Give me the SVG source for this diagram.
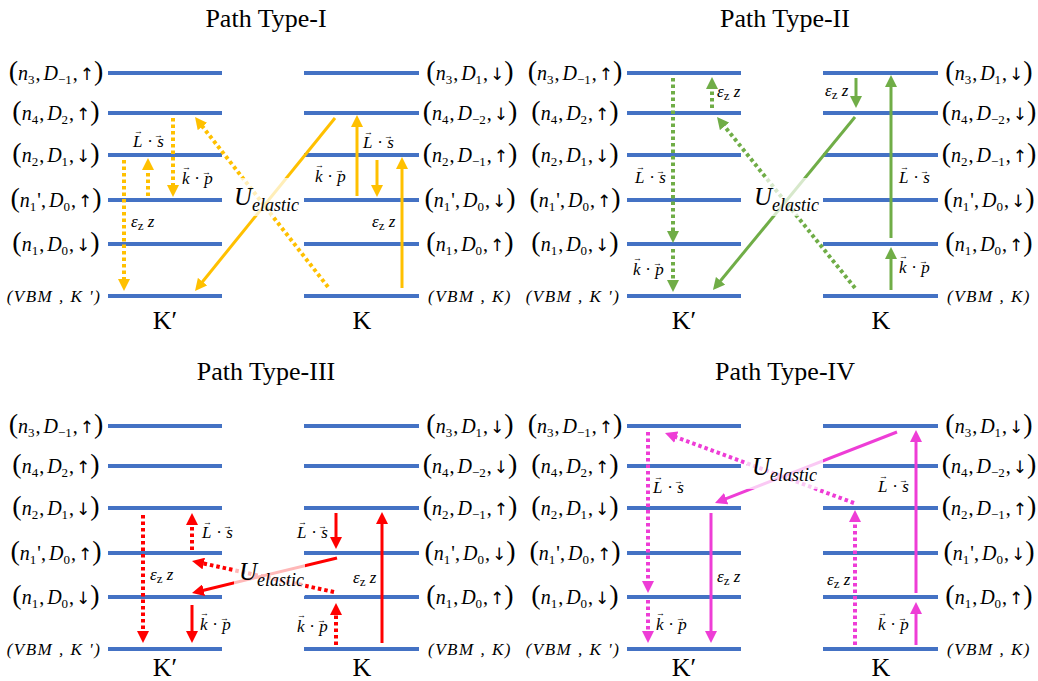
<svg xmlns="http://www.w3.org/2000/svg" width="1038" height="681" viewBox="0 0 1038 681">
<style>
.lv{stroke:#4472C4;stroke-width:4}
.t{font-family:"Liberation Serif","DejaVu Serif",serif;fill:#000}
.lab{font-size:20px;text-anchor:middle}
.par{font-size:28px;font-style:normal}
.ar{font-family:"DejaVu Sans",sans-serif;font-size:17px}
.i{font-style:italic}
.sb{font-size:13px}
.vbm{font-size:17px;font-style:italic;letter-spacing:1.5px;text-anchor:middle}
.title{font-size:26px;text-anchor:middle}
.kk{font-size:26px;text-anchor:middle}
.m{font-size:17px}
.v{font-size:9px;font-style:normal}
.ue{font-size:25px;font-style:italic}
.ues{font-size:18px;font-style:italic}
.sol{stroke-width:3;fill:none}
.dot{stroke-width:4;stroke-dasharray:3.5 3;fill:none}
.or{stroke:#FFC000}.gr{stroke:#70AD47}.rd{stroke:#FF0000}.mg{stroke:#EE3DD6}
.fade{fill:#fff;fill-opacity:0.72}
</style>
<defs>
<marker id="aor" viewBox="0 0 12 12" markerWidth="12" markerHeight="12" refX="2" refY="6" orient="auto" markerUnits="userSpaceOnUse"><path d="M0,0 L12,6 L0,12 z" fill="#FFC000"/></marker>
<marker id="agr" viewBox="0 0 12 12" markerWidth="12" markerHeight="12" refX="2" refY="6" orient="auto" markerUnits="userSpaceOnUse"><path d="M0,0 L12,6 L0,12 z" fill="#70AD47"/></marker>
<marker id="ard" viewBox="0 0 12 12" markerWidth="12" markerHeight="12" refX="2" refY="6" orient="auto" markerUnits="userSpaceOnUse"><path d="M0,0 L12,6 L0,12 z" fill="#FF0000"/></marker>
<marker id="amg" viewBox="0 0 12 12" markerWidth="12" markerHeight="12" refX="2" refY="6" orient="auto" markerUnits="userSpaceOnUse"><path d="M0,0 L12,6 L0,12 z" fill="#EE3DD6"/></marker>
<g id="levels">
<line class="lv" x1="108" y1="73" x2="222" y2="73"/><line class="lv" x1="108" y1="113" x2="222" y2="113"/><line class="lv" x1="108" y1="155" x2="222" y2="155"/><line class="lv" x1="108" y1="200" x2="222" y2="200"/><line class="lv" x1="108" y1="244" x2="222" y2="244"/><line class="lv" x1="108" y1="296" x2="222" y2="296"/>
<line class="lv" x1="304" y1="73" x2="419" y2="73"/><line class="lv" x1="304" y1="113" x2="419" y2="113"/><line class="lv" x1="304" y1="155" x2="419" y2="155"/><line class="lv" x1="304" y1="200" x2="419" y2="200"/><line class="lv" x1="304" y1="244" x2="419" y2="244"/><line class="lv" x1="304" y1="296" x2="419" y2="296"/>
</g>
</defs>

<g id="titles">
<text class="t title" x="266" y="27">Path Type-I</text>
<text class="t title" x="785" y="27">Path Type-II</text>
<text class="t title" x="266" y="380">Path Type-III</text>
<text class="t title" x="785" y="380">Path Type-IV</text>
</g>

<g id="panel1">
<use href="#levels"/>
<g id="labels1">
<text class="t lab" x="56" y="80"><tspan class="par">(</tspan><tspan class="i">n</tspan><tspan class="sb" dy="4">3</tspan><tspan dy="-4" dx="1">,</tspan><tspan class="i" dx="3">D</tspan><tspan class="sb" dy="4">−1</tspan><tspan dy="-4" dx="1">,</tspan><tspan class="ar" dx="2">↑</tspan><tspan class="par">)</tspan></text>
<text class="t lab" x="56" y="120"><tspan class="par">(</tspan><tspan class="i">n</tspan><tspan class="sb" dy="4">4</tspan><tspan dy="-4" dx="1">,</tspan><tspan class="i" dx="3">D</tspan><tspan class="sb" dy="4">2</tspan><tspan dy="-4" dx="1">,</tspan><tspan class="ar" dx="2">↑</tspan><tspan class="par">)</tspan></text>
<text class="t lab" x="56" y="162"><tspan class="par">(</tspan><tspan class="i">n</tspan><tspan class="sb" dy="4">2</tspan><tspan dy="-4" dx="1">,</tspan><tspan class="i" dx="3">D</tspan><tspan class="sb" dy="4">1</tspan><tspan dy="-4" dx="1">,</tspan><tspan class="ar" dx="2">↓</tspan><tspan class="par">)</tspan></text>
<text class="t lab" x="56" y="207"><tspan class="par">(</tspan><tspan class="i">n</tspan><tspan class="sb" dy="4">1</tspan><tspan dy="-4" dx="1">',</tspan><tspan class="i" dx="3">D</tspan><tspan class="sb" dy="4">0</tspan><tspan dy="-4" dx="1">,</tspan><tspan class="ar" dx="2">↑</tspan><tspan class="par">)</tspan></text>
<text class="t lab" x="56" y="251"><tspan class="par">(</tspan><tspan class="i">n</tspan><tspan class="sb" dy="4">1</tspan><tspan dy="-4" dx="1">,</tspan><tspan class="i" dx="3">D</tspan><tspan class="sb" dy="4">0</tspan><tspan dy="-4" dx="1">,</tspan><tspan class="ar" dx="2">↓</tspan><tspan class="par">)</tspan></text>
<text class="t vbm" x="54" y="302">(VBM , K ')</text>
<text class="t lab" x="470" y="80"><tspan class="par">(</tspan><tspan class="i">n</tspan><tspan class="sb" dy="4">3</tspan><tspan dy="-4" dx="1">,</tspan><tspan class="i" dx="3">D</tspan><tspan class="sb" dy="4">1</tspan><tspan dy="-4" dx="1">,</tspan><tspan class="ar" dx="2">↓</tspan><tspan class="par">)</tspan></text>
<text class="t lab" x="470" y="120"><tspan class="par">(</tspan><tspan class="i">n</tspan><tspan class="sb" dy="4">4</tspan><tspan dy="-4" dx="1">,</tspan><tspan class="i" dx="3">D</tspan><tspan class="sb" dy="4">−2</tspan><tspan dy="-4" dx="1">,</tspan><tspan class="ar" dx="2">↓</tspan><tspan class="par">)</tspan></text>
<text class="t lab" x="470" y="162"><tspan class="par">(</tspan><tspan class="i">n</tspan><tspan class="sb" dy="4">2</tspan><tspan dy="-4" dx="1">,</tspan><tspan class="i" dx="3">D</tspan><tspan class="sb" dy="4">−1</tspan><tspan dy="-4" dx="1">,</tspan><tspan class="ar" dx="2">↑</tspan><tspan class="par">)</tspan></text>
<text class="t lab" x="470" y="207"><tspan class="par">(</tspan><tspan class="i">n</tspan><tspan class="sb" dy="4">1</tspan><tspan dy="-4" dx="1">',</tspan><tspan class="i" dx="3">D</tspan><tspan class="sb" dy="4">0</tspan><tspan dy="-4" dx="1">,</tspan><tspan class="ar" dx="2">↓</tspan><tspan class="par">)</tspan></text>
<text class="t lab" x="470" y="251"><tspan class="par">(</tspan><tspan class="i">n</tspan><tspan class="sb" dy="4">1</tspan><tspan dy="-4" dx="1">,</tspan><tspan class="i" dx="3">D</tspan><tspan class="sb" dy="4">0</tspan><tspan dy="-4" dx="1">,</tspan><tspan class="ar" dx="2">↑</tspan><tspan class="par">)</tspan></text>
<text class="t vbm" x="470" y="302">(VBM , K)</text>
</g>
<g id="connectors1">
<path class="dot or" d="M124,160 V281" marker-end="url(#aor)"/>
<path class="dot or" d="M148,196 V168" marker-end="url(#aor)"/>
<path class="dot or" d="M173,118 V187" marker-end="url(#aor)"/>
<path class="dot or" d="M328,287 L201.2,124.9" marker-end="url(#aor)"/>
<path class="sol or" d="M335,118 L201.3,283.2" marker-end="url(#aor)"/>
<path class="sol or" d="M357,196 V125" marker-end="url(#aor)"/>
<path class="sol or" d="M377,160 V187" marker-end="url(#aor)"/>
<path class="sol or" d="M402,288 V167" marker-end="url(#aor)"/>
</g>
<rect class="fade" x="230" y="178" width="68" height="38"/>
<text class="t" x="234" y="205"><tspan class="ue">U</tspan><tspan class="ues" dy="6">elastic</tspan></text>
<text class="t m" x="133" y="147"><tspan class="i">L</tspan><tspan class="v" x="134" y="134">→</tspan><tspan x="143" y="147"> · </tspan><tspan class="i">s</tspan><tspan class="v" x="154" y="138">→</tspan></text>
<text class="t m" x="182" y="184"><tspan class="i">k</tspan><tspan class="v" x="182" y="170">→</tspan><tspan x="190" y="184"> · </tspan><tspan class="i">p</tspan><tspan class="v" x="202" y="175">→</tspan></text>
<text class="t m" x="131" y="227"><tspan class="i">ε</tspan><tspan class="sb" dy="3">z</tspan><tspan class="i" dy="-3"> z</tspan></text>
<text class="t m" x="363" y="148"><tspan class="i">L</tspan><tspan class="v" x="364" y="135">→</tspan><tspan x="373" y="148"> · </tspan><tspan class="i">s</tspan><tspan class="v" x="384" y="139">→</tspan></text>
<text class="t m" x="315" y="182"><tspan class="i">k</tspan><tspan class="v" x="315" y="168">→</tspan><tspan x="323" y="182"> · </tspan><tspan class="i">p</tspan><tspan class="v" x="335" y="173">→</tspan></text>
<text class="t m" x="372" y="227"><tspan class="i">ε</tspan><tspan class="sb" dy="3">z</tspan><tspan class="i" dy="-3"> z</tspan></text>
<text class="t kk" x="165" y="329">K′</text><text class="t kk" x="362" y="329">K</text>
</g>

<g id="panel2" transform="translate(519,0)">
<use href="#levels"/>
<g id="labels2">
<text class="t lab" x="56" y="80"><tspan class="par">(</tspan><tspan class="i">n</tspan><tspan class="sb" dy="4">3</tspan><tspan dy="-4" dx="1">,</tspan><tspan class="i" dx="3">D</tspan><tspan class="sb" dy="4">−1</tspan><tspan dy="-4" dx="1">,</tspan><tspan class="ar" dx="2">↑</tspan><tspan class="par">)</tspan></text>
<text class="t lab" x="56" y="120"><tspan class="par">(</tspan><tspan class="i">n</tspan><tspan class="sb" dy="4">4</tspan><tspan dy="-4" dx="1">,</tspan><tspan class="i" dx="3">D</tspan><tspan class="sb" dy="4">2</tspan><tspan dy="-4" dx="1">,</tspan><tspan class="ar" dx="2">↑</tspan><tspan class="par">)</tspan></text>
<text class="t lab" x="56" y="162"><tspan class="par">(</tspan><tspan class="i">n</tspan><tspan class="sb" dy="4">2</tspan><tspan dy="-4" dx="1">,</tspan><tspan class="i" dx="3">D</tspan><tspan class="sb" dy="4">1</tspan><tspan dy="-4" dx="1">,</tspan><tspan class="ar" dx="2">↓</tspan><tspan class="par">)</tspan></text>
<text class="t lab" x="56" y="207"><tspan class="par">(</tspan><tspan class="i">n</tspan><tspan class="sb" dy="4">1</tspan><tspan dy="-4" dx="1">',</tspan><tspan class="i" dx="3">D</tspan><tspan class="sb" dy="4">0</tspan><tspan dy="-4" dx="1">,</tspan><tspan class="ar" dx="2">↑</tspan><tspan class="par">)</tspan></text>
<text class="t lab" x="56" y="251"><tspan class="par">(</tspan><tspan class="i">n</tspan><tspan class="sb" dy="4">1</tspan><tspan dy="-4" dx="1">,</tspan><tspan class="i" dx="3">D</tspan><tspan class="sb" dy="4">0</tspan><tspan dy="-4" dx="1">,</tspan><tspan class="ar" dx="2">↓</tspan><tspan class="par">)</tspan></text>
<text class="t vbm" x="54" y="302">(VBM , K ')</text>
<text class="t lab" x="470" y="80"><tspan class="par">(</tspan><tspan class="i">n</tspan><tspan class="sb" dy="4">3</tspan><tspan dy="-4" dx="1">,</tspan><tspan class="i" dx="3">D</tspan><tspan class="sb" dy="4">1</tspan><tspan dy="-4" dx="1">,</tspan><tspan class="ar" dx="2">↓</tspan><tspan class="par">)</tspan></text>
<text class="t lab" x="470" y="120"><tspan class="par">(</tspan><tspan class="i">n</tspan><tspan class="sb" dy="4">4</tspan><tspan dy="-4" dx="1">,</tspan><tspan class="i" dx="3">D</tspan><tspan class="sb" dy="4">−2</tspan><tspan dy="-4" dx="1">,</tspan><tspan class="ar" dx="2">↓</tspan><tspan class="par">)</tspan></text>
<text class="t lab" x="470" y="162"><tspan class="par">(</tspan><tspan class="i">n</tspan><tspan class="sb" dy="4">2</tspan><tspan dy="-4" dx="1">,</tspan><tspan class="i" dx="3">D</tspan><tspan class="sb" dy="4">−1</tspan><tspan dy="-4" dx="1">,</tspan><tspan class="ar" dx="2">↑</tspan><tspan class="par">)</tspan></text>
<text class="t lab" x="470" y="207"><tspan class="par">(</tspan><tspan class="i">n</tspan><tspan class="sb" dy="4">1</tspan><tspan dy="-4" dx="1">',</tspan><tspan class="i" dx="3">D</tspan><tspan class="sb" dy="4">0</tspan><tspan dy="-4" dx="1">,</tspan><tspan class="ar" dx="2">↓</tspan><tspan class="par">)</tspan></text>
<text class="t lab" x="470" y="251"><tspan class="par">(</tspan><tspan class="i">n</tspan><tspan class="sb" dy="4">1</tspan><tspan dy="-4" dx="1">,</tspan><tspan class="i" dx="3">D</tspan><tspan class="sb" dy="4">0</tspan><tspan dy="-4" dx="1">,</tspan><tspan class="ar" dx="2">↑</tspan><tspan class="par">)</tspan></text>
<text class="t vbm" x="470" y="302">(VBM , K)</text>
</g>
<g id="connectors2">
<path class="dot gr" d="M154,78 V233" marker-end="url(#agr)"/>
<path class="dot gr" d="M154,249 V282" marker-end="url(#agr)"/>
<path class="dot gr" d="M193,108 V87" marker-end="url(#agr)"/>
<path class="dot gr" d="M336,288 L204.3,124.8" marker-end="url(#agr)"/>
<path class="sol gr" d="M336,117 L200.3,282.3" marker-end="url(#agr)"/>
<path class="sol gr" d="M337,78 V98" marker-end="url(#agr)"/>
<path class="sol gr" d="M372,238 V85" marker-end="url(#agr)"/>
<path class="sol gr" d="M372,290 V257" marker-end="url(#agr)"/>
</g>
<rect class="fade" x="231" y="178" width="68" height="38"/>
<text class="t" x="235" y="205"><tspan class="ue">U</tspan><tspan class="ues" dy="6">elastic</tspan></text>
<text class="t m" x="116" y="183"><tspan class="i">L</tspan><tspan class="v" x="117" y="170">→</tspan><tspan x="126" y="183"> · </tspan><tspan class="i">s</tspan><tspan class="v" x="137" y="174">→</tspan></text>
<text class="t m" x="114" y="275"><tspan class="i">k</tspan><tspan class="v" x="114" y="261">→</tspan><tspan x="122" y="275"> · </tspan><tspan class="i">p</tspan><tspan class="v" x="134" y="266">→</tspan></text>
<text class="t m" x="198" y="97"><tspan class="i">ε</tspan><tspan class="sb" dy="3">z</tspan><tspan class="i" dy="-3"> z</tspan></text>
<text class="t m" x="306" y="96"><tspan class="i">ε</tspan><tspan class="sb" dy="3">z</tspan><tspan class="i" dy="-3"> z</tspan></text>
<text class="t m" x="380" y="183"><tspan class="i">L</tspan><tspan class="v" x="381" y="170">→</tspan><tspan x="390" y="183"> · </tspan><tspan class="i">s</tspan><tspan class="v" x="401" y="174">→</tspan></text>
<text class="t m" x="380" y="273"><tspan class="i">k</tspan><tspan class="v" x="380" y="259">→</tspan><tspan x="388" y="273"> · </tspan><tspan class="i">p</tspan><tspan class="v" x="400" y="264">→</tspan></text>
<text class="t kk" x="165" y="329">K′</text><text class="t kk" x="362" y="329">K</text>
</g>

<g id="panel3" transform="translate(0,353)">
<use href="#levels"/>
<g id="labels3">
<text class="t lab" x="56" y="80"><tspan class="par">(</tspan><tspan class="i">n</tspan><tspan class="sb" dy="4">3</tspan><tspan dy="-4" dx="1">,</tspan><tspan class="i" dx="3">D</tspan><tspan class="sb" dy="4">−1</tspan><tspan dy="-4" dx="1">,</tspan><tspan class="ar" dx="2">↑</tspan><tspan class="par">)</tspan></text>
<text class="t lab" x="56" y="120"><tspan class="par">(</tspan><tspan class="i">n</tspan><tspan class="sb" dy="4">4</tspan><tspan dy="-4" dx="1">,</tspan><tspan class="i" dx="3">D</tspan><tspan class="sb" dy="4">2</tspan><tspan dy="-4" dx="1">,</tspan><tspan class="ar" dx="2">↑</tspan><tspan class="par">)</tspan></text>
<text class="t lab" x="56" y="162"><tspan class="par">(</tspan><tspan class="i">n</tspan><tspan class="sb" dy="4">2</tspan><tspan dy="-4" dx="1">,</tspan><tspan class="i" dx="3">D</tspan><tspan class="sb" dy="4">1</tspan><tspan dy="-4" dx="1">,</tspan><tspan class="ar" dx="2">↓</tspan><tspan class="par">)</tspan></text>
<text class="t lab" x="56" y="207"><tspan class="par">(</tspan><tspan class="i">n</tspan><tspan class="sb" dy="4">1</tspan><tspan dy="-4" dx="1">',</tspan><tspan class="i" dx="3">D</tspan><tspan class="sb" dy="4">0</tspan><tspan dy="-4" dx="1">,</tspan><tspan class="ar" dx="2">↑</tspan><tspan class="par">)</tspan></text>
<text class="t lab" x="56" y="251"><tspan class="par">(</tspan><tspan class="i">n</tspan><tspan class="sb" dy="4">1</tspan><tspan dy="-4" dx="1">,</tspan><tspan class="i" dx="3">D</tspan><tspan class="sb" dy="4">0</tspan><tspan dy="-4" dx="1">,</tspan><tspan class="ar" dx="2">↓</tspan><tspan class="par">)</tspan></text>
<text class="t vbm" x="54" y="302">(VBM , K ')</text>
<text class="t lab" x="470" y="80"><tspan class="par">(</tspan><tspan class="i">n</tspan><tspan class="sb" dy="4">3</tspan><tspan dy="-4" dx="1">,</tspan><tspan class="i" dx="3">D</tspan><tspan class="sb" dy="4">1</tspan><tspan dy="-4" dx="1">,</tspan><tspan class="ar" dx="2">↓</tspan><tspan class="par">)</tspan></text>
<text class="t lab" x="470" y="120"><tspan class="par">(</tspan><tspan class="i">n</tspan><tspan class="sb" dy="4">4</tspan><tspan dy="-4" dx="1">,</tspan><tspan class="i" dx="3">D</tspan><tspan class="sb" dy="4">−2</tspan><tspan dy="-4" dx="1">,</tspan><tspan class="ar" dx="2">↓</tspan><tspan class="par">)</tspan></text>
<text class="t lab" x="470" y="162"><tspan class="par">(</tspan><tspan class="i">n</tspan><tspan class="sb" dy="4">2</tspan><tspan dy="-4" dx="1">,</tspan><tspan class="i" dx="3">D</tspan><tspan class="sb" dy="4">−1</tspan><tspan dy="-4" dx="1">,</tspan><tspan class="ar" dx="2">↑</tspan><tspan class="par">)</tspan></text>
<text class="t lab" x="470" y="207"><tspan class="par">(</tspan><tspan class="i">n</tspan><tspan class="sb" dy="4">1</tspan><tspan dy="-4" dx="1">',</tspan><tspan class="i" dx="3">D</tspan><tspan class="sb" dy="4">0</tspan><tspan dy="-4" dx="1">,</tspan><tspan class="ar" dx="2">↓</tspan><tspan class="par">)</tspan></text>
<text class="t lab" x="470" y="251"><tspan class="par">(</tspan><tspan class="i">n</tspan><tspan class="sb" dy="4">1</tspan><tspan dy="-4" dx="1">,</tspan><tspan class="i" dx="3">D</tspan><tspan class="sb" dy="4">0</tspan><tspan dy="-4" dx="1">,</tspan><tspan class="ar" dx="2">↑</tspan><tspan class="par">)</tspan></text>
<text class="t vbm" x="470" y="302">(VBM , K)</text>
</g>
<g id="connectors3">
<path class="dot rd" d="M143,162 V280" marker-end="url(#ard)"/>
<path class="dot rd" d="M192,197 V170" marker-end="url(#ard)"/>
<path class="sol rd" d="M192,252 V280" marker-end="url(#ard)"/>
<path class="dot rd" d="M334,239 L201.8,210.1" marker-end="url(#ard)"/>
<path class="sol rd" d="M337,205 L201.7,237.7" marker-end="url(#ard)"/>
<path class="sol rd" d="M336,160 V186" marker-end="url(#ard)"/>
<path class="dot rd" d="M336,292 V260" marker-end="url(#ard)"/>
<path class="sol rd" d="M382,290 V169" marker-end="url(#ard)"/>
</g>
<rect class="fade" x="234" y="206" width="71" height="37"/>
<text class="t" x="239" y="227"><tspan class="ue">U</tspan><tspan class="ues" dy="6">elastic</tspan></text>
<text class="t m" x="202" y="185"><tspan class="i">L</tspan><tspan class="v" x="203" y="172">→</tspan><tspan x="212" y="185"> · </tspan><tspan class="i">s</tspan><tspan class="v" x="223" y="176">→</tspan></text>
<text class="t m" x="200" y="277"><tspan class="i">k</tspan><tspan class="v" x="200" y="263">→</tspan><tspan x="208" y="277"> · </tspan><tspan class="i">p</tspan><tspan class="v" x="220" y="268">→</tspan></text>
<text class="t m" x="150" y="227"><tspan class="i">ε</tspan><tspan class="sb" dy="3">z</tspan><tspan class="i" dy="-3"> z</tspan></text>
<text class="t m" x="297" y="185"><tspan class="i">L</tspan><tspan class="v" x="298" y="172">→</tspan><tspan x="307" y="185"> · </tspan><tspan class="i">s</tspan><tspan class="v" x="318" y="176">→</tspan></text>
<text class="t m" x="297" y="279"><tspan class="i">k</tspan><tspan class="v" x="297" y="265">→</tspan><tspan x="305" y="279"> · </tspan><tspan class="i">p</tspan><tspan class="v" x="317" y="270">→</tspan></text>
<text class="t m" x="353" y="230"><tspan class="i">ε</tspan><tspan class="sb" dy="3">z</tspan><tspan class="i" dy="-3"> z</tspan></text>
<text class="t kk" x="165" y="323">K′</text><text class="t kk" x="362" y="323">K</text>
</g>

<g id="panel4" transform="translate(519,353)">
<use href="#levels"/>
<g id="labels4">
<text class="t lab" x="56" y="80"><tspan class="par">(</tspan><tspan class="i">n</tspan><tspan class="sb" dy="4">3</tspan><tspan dy="-4" dx="1">,</tspan><tspan class="i" dx="3">D</tspan><tspan class="sb" dy="4">−1</tspan><tspan dy="-4" dx="1">,</tspan><tspan class="ar" dx="2">↑</tspan><tspan class="par">)</tspan></text>
<text class="t lab" x="56" y="120"><tspan class="par">(</tspan><tspan class="i">n</tspan><tspan class="sb" dy="4">4</tspan><tspan dy="-4" dx="1">,</tspan><tspan class="i" dx="3">D</tspan><tspan class="sb" dy="4">2</tspan><tspan dy="-4" dx="1">,</tspan><tspan class="ar" dx="2">↑</tspan><tspan class="par">)</tspan></text>
<text class="t lab" x="56" y="162"><tspan class="par">(</tspan><tspan class="i">n</tspan><tspan class="sb" dy="4">2</tspan><tspan dy="-4" dx="1">,</tspan><tspan class="i" dx="3">D</tspan><tspan class="sb" dy="4">1</tspan><tspan dy="-4" dx="1">,</tspan><tspan class="ar" dx="2">↓</tspan><tspan class="par">)</tspan></text>
<text class="t lab" x="56" y="207"><tspan class="par">(</tspan><tspan class="i">n</tspan><tspan class="sb" dy="4">1</tspan><tspan dy="-4" dx="1">',</tspan><tspan class="i" dx="3">D</tspan><tspan class="sb" dy="4">0</tspan><tspan dy="-4" dx="1">,</tspan><tspan class="ar" dx="2">↑</tspan><tspan class="par">)</tspan></text>
<text class="t lab" x="56" y="251"><tspan class="par">(</tspan><tspan class="i">n</tspan><tspan class="sb" dy="4">1</tspan><tspan dy="-4" dx="1">,</tspan><tspan class="i" dx="3">D</tspan><tspan class="sb" dy="4">0</tspan><tspan dy="-4" dx="1">,</tspan><tspan class="ar" dx="2">↓</tspan><tspan class="par">)</tspan></text>
<text class="t vbm" x="54" y="302">(VBM , K ')</text>
<text class="t lab" x="470" y="80"><tspan class="par">(</tspan><tspan class="i">n</tspan><tspan class="sb" dy="4">3</tspan><tspan dy="-4" dx="1">,</tspan><tspan class="i" dx="3">D</tspan><tspan class="sb" dy="4">1</tspan><tspan dy="-4" dx="1">,</tspan><tspan class="ar" dx="2">↓</tspan><tspan class="par">)</tspan></text>
<text class="t lab" x="470" y="120"><tspan class="par">(</tspan><tspan class="i">n</tspan><tspan class="sb" dy="4">4</tspan><tspan dy="-4" dx="1">,</tspan><tspan class="i" dx="3">D</tspan><tspan class="sb" dy="4">−2</tspan><tspan dy="-4" dx="1">,</tspan><tspan class="ar" dx="2">↓</tspan><tspan class="par">)</tspan></text>
<text class="t lab" x="470" y="162"><tspan class="par">(</tspan><tspan class="i">n</tspan><tspan class="sb" dy="4">2</tspan><tspan dy="-4" dx="1">,</tspan><tspan class="i" dx="3">D</tspan><tspan class="sb" dy="4">−1</tspan><tspan dy="-4" dx="1">,</tspan><tspan class="ar" dx="2">↑</tspan><tspan class="par">)</tspan></text>
<text class="t lab" x="470" y="207"><tspan class="par">(</tspan><tspan class="i">n</tspan><tspan class="sb" dy="4">1</tspan><tspan dy="-4" dx="1">',</tspan><tspan class="i" dx="3">D</tspan><tspan class="sb" dy="4">0</tspan><tspan dy="-4" dx="1">,</tspan><tspan class="ar" dx="2">↓</tspan><tspan class="par">)</tspan></text>
<text class="t lab" x="470" y="251"><tspan class="par">(</tspan><tspan class="i">n</tspan><tspan class="sb" dy="4">1</tspan><tspan dy="-4" dx="1">,</tspan><tspan class="i" dx="3">D</tspan><tspan class="sb" dy="4">0</tspan><tspan dy="-4" dx="1">,</tspan><tspan class="ar" dx="2">↑</tspan><tspan class="par">)</tspan></text>
<text class="t vbm" x="470" y="302">(VBM , K)</text>
</g>
<g id="connectors4">
<path class="dot mg" d="M129,79 V230" marker-end="url(#amg)"/>
<path class="dot mg" d="M129,247 V280" marker-end="url(#amg)"/>
<path class="sol mg" d="M192,160 V280" marker-end="url(#amg)"/>
<path class="dot mg" d="M335,150 L155.4,83.5" marker-end="url(#amg)"/>
<path class="sol mg" d="M378,79 L205.3,146.4" marker-end="url(#amg)"/>
<path class="dot mg" d="M336,292 V167" marker-end="url(#amg)"/>
<path class="sol mg" d="M397,240 V87" marker-end="url(#amg)"/>
<path class="sol mg" d="M397,292 V259" marker-end="url(#amg)"/>
</g>
<rect class="fade" x="228" y="97" width="76" height="39"/>
<text class="t" x="233" y="122"><tspan class="ue">U</tspan><tspan class="ues" dy="6">elastic</tspan></text>
<text class="t m" x="134" y="140"><tspan class="i">L</tspan><tspan class="v" x="135" y="127">→</tspan><tspan x="144" y="140"> · </tspan><tspan class="i">s</tspan><tspan class="v" x="155" y="131">→</tspan></text>
<text class="t m" x="137" y="277"><tspan class="i">k</tspan><tspan class="v" x="137" y="263">→</tspan><tspan x="145" y="277"> · </tspan><tspan class="i">p</tspan><tspan class="v" x="157" y="268">→</tspan></text>
<text class="t m" x="198" y="229"><tspan class="i">ε</tspan><tspan class="sb" dy="3">z</tspan><tspan class="i" dy="-3"> z</tspan></text>
<text class="t m" x="308" y="232"><tspan class="i">ε</tspan><tspan class="sb" dy="3">z</tspan><tspan class="i" dy="-3"> z</tspan></text>
<text class="t m" x="359" y="139"><tspan class="i">L</tspan><tspan class="v" x="360" y="126">→</tspan><tspan x="369" y="139"> · </tspan><tspan class="i">s</tspan><tspan class="v" x="380" y="130">→</tspan></text>
<text class="t m" x="359" y="277"><tspan class="i">k</tspan><tspan class="v" x="359" y="263">→</tspan><tspan x="367" y="277"> · </tspan><tspan class="i">p</tspan><tspan class="v" x="379" y="268">→</tspan></text>
<text class="t kk" x="165" y="323">K′</text><text class="t kk" x="362" y="323">K</text>
</g>
</svg>
